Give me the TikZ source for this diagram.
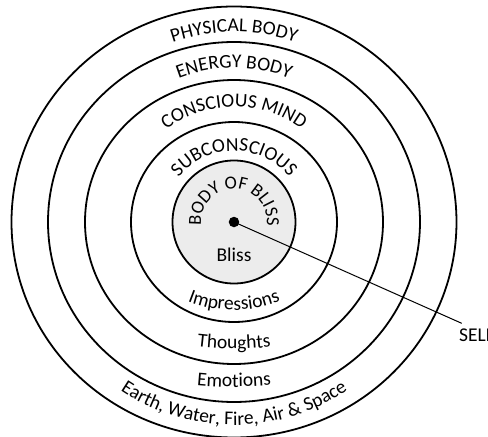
\documentclass[tikz,border=0pt]{standalone}
\usepackage{fontspec}
\setmainfont{Carlito}
\usetikzlibrary{decorations.text}
\newcommand{\ringfont}{\fontsize{19.5}{22}\selectfont}
\newcommand{\blissfont}{\fontsize{18.5}{20}\selectfont}

\begin{document}
\begin{tikzpicture}[x=1pt,y=1pt,
  ring/.style={line width=1.8pt},
  arctext/.style={decorate,decoration={text along path,text align=center,text={|\ringfont|#1}}}]
\useasboundingbox (-234,-215) rectangle (254,222);
% the five layers
\draw[ring] (0,0) ellipse[x radius=222.5,y radius=215.5];
\draw[ring] (0,0) ellipse[x radius=186,y radius=180];
\draw[ring] (0,0) ellipse[x radius=149,y radius=142];
\draw[ring] (0,0) ellipse[x radius=103,y radius=100];
\filldraw[ring,fill=gray!15] (0,0) circle[radius=61.5];
% names along the top
\path[arctext={PHYSICAL BODY}] (200:190) arc[start angle=200,end angle=-20,radius=190];
\path[arctext={ENERGY BODY}] (200:154) arc[start angle=200,end angle=-20,radius=154];
\path[arctext={CONSCIOUS MIND}] (200:115) arc[start angle=200,end angle=-20,radius=115];
\path[arctext={SUBCONSCIOUS}] (200:71) arc[start angle=200,end angle=-20,radius=71];
\path[decorate,decoration={text along path,text align=center,text={|\blissfont|BODY OF BLISS}}] (220:33) arc[start angle=220,end angle=-40,radius=33];
% contents along the bottom
\path[arctext={Impressions}] ([shift={(0,37)}]230:125) arc[start angle=230,end angle=310,radius=125];
\path[arctext={Thoughts}] ([shift={(0,173)}]250:300) arc[start angle=250,end angle=290,radius=300];
\path[arctext={Emotions}] ([shift={(0,235)}]255:400) arc[start angle=255,end angle=285,radius=400];
\path[arctext={Earth, Water, Fire, Air {\&} Space}] (160:203) arc[start angle=160,end angle=380,radius=203];
\node[anchor=base,font=\ringfont] (bliss) at (0,-39.5) {Bliss};
% the self
\node[circle,fill,inner sep=0pt,minimum size=10.5pt] (dot) at (0,0) {};
\node[anchor=base west,inner sep=0pt,font=\ringfont] (self) at (225,-119.7) {SELF};
\coordinate (tip) at (227.7,-101.3);
\draw[line width=1pt] (dot.center) -- (tip);
\end{tikzpicture}
\end{document}
